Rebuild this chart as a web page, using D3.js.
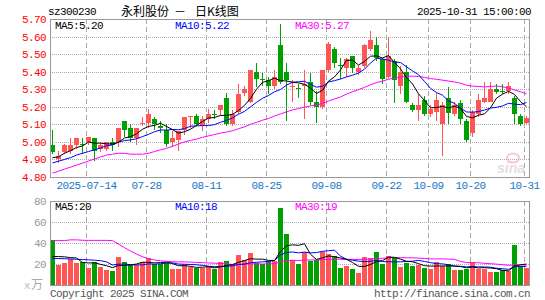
<!DOCTYPE html>
<html>
<head>
<meta charset="utf-8">
<script src="https://cdn.jsdelivr.net/npm/d3@7"></script>
<style>
  body { margin: 0; background: #fff; }
  svg { display: block; }
  text { font-family: "Liberation Mono", monospace; font-size: 11px; letter-spacing: -0.6px; }
  .cjk { font-family: "Noto Sans CJK SC", sans-serif; font-size: 12px; letter-spacing: 0; }
</style>
</head>
<body>
<div id="chart"></div>
<script>
// Daily K-line data, 2025-07-04 .. 2025-10-31
const dates = [
  "2025-07-04","2025-07-07","2025-07-08","2025-07-09","2025-07-10","2025-07-11","2025-07-14","2025-07-15","2025-07-16","2025-07-17",
  "2025-07-18","2025-07-21","2025-07-22","2025-07-23","2025-07-24","2025-07-25","2025-07-28","2025-07-29","2025-07-30","2025-07-31",
  "2025-08-01","2025-08-04","2025-08-05","2025-08-06","2025-08-07","2025-08-08","2025-08-11","2025-08-12","2025-08-13","2025-08-14",
  "2025-08-15","2025-08-18","2025-08-19","2025-08-20","2025-08-21","2025-08-22","2025-08-25","2025-08-26","2025-08-27","2025-08-28",
  "2025-08-29","2025-09-01","2025-09-02","2025-09-03","2025-09-04","2025-09-05","2025-09-08","2025-09-09","2025-09-10","2025-09-11",
  "2025-09-12","2025-09-15","2025-09-16","2025-09-17","2025-09-18","2025-09-19","2025-09-22","2025-09-23","2025-09-24","2025-09-25",
  "2025-09-26","2025-09-29","2025-09-30","2025-10-09","2025-10-10","2025-10-13","2025-10-14","2025-10-15","2025-10-16","2025-10-17",
  "2025-10-20","2025-10-21","2025-10-22","2025-10-23","2025-10-24","2025-10-27","2025-10-28","2025-10-29","2025-10-30","2025-10-31"
];
const open = [
  4.98,4.90,4.94,4.95,4.98,4.99,5.00,5.02,4.96,4.96,
  5.00,5.00,5.12,5.08,5.02,5.10,5.11,5.13,5.09,5.07,
  5.00,5.01,5.07,5.14,5.15,5.09,5.13,5.16,5.18,5.25,
  5.10,5.17,5.28,5.23,5.40,5.36,5.35,5.32,5.55,5.40,
  5.31,5.305,5.32,5.34,5.23,5.20,5.41,5.53,5.44,5.42,
  5.49,5.40,5.43,5.53,5.55,5.47,5.37,5.46,5.32,5.40,
  5.21,5.18,5.24,5.16,5.17,5.10,5.25,5.16,5.22,5.12,
  5.05,5.16,5.23,5.23,5.30,5.29,5.29,5.25,5.15,5.11
];
const high = [
  5.07,4.95,4.99,5.02,5.02,5.02,5.03,5.02,5.00,5.00,
  5.02,5.08,5.12,5.10,5.08,5.14,5.19,5.14,5.12,5.10,
  5.06,5.06,5.14,5.15,5.16,5.15,5.19,5.18,5.21,5.28,
  5.18,5.33,5.32,5.41,5.45,5.39,5.37,5.41,5.67,5.45,
  5.35,5.33,5.41,5.39,5.29,5.41,5.57,5.54,5.48,5.48,
  5.49,5.44,5.56,5.63,5.60,5.48,5.59,5.47,5.43,5.44,
  5.22,5.27,5.26,5.21,5.28,5.23,5.31,5.23,5.24,5.13,
  5.18,5.27,5.34,5.34,5.33,5.33,5.34,5.26,5.16,5.15
];
const low = [
  4.93,4.88,4.93,4.93,4.96,4.93,4.98,4.89,4.94,4.95,
  4.95,4.97,5.03,5.00,4.98,5.09,5.08,5.07,5.05,4.97,
  4.97,4.95,5.04,5.08,5.09,5.06,5.11,5.13,5.15,5.09,
  5.09,5.16,5.26,5.22,5.31,5.32,5.27,5.30,5.33,5.12,
  5.23,5.25,5.13,5.21,5.11,5.19,5.40,5.42,5.36,5.37,
  5.39,5.38,5.42,5.52,5.46,5.33,5.36,5.22,5.27,5.22,
  5.17,5.12,5.15,5.14,5.12,4.92,5.10,5.15,5.10,5.00,
  5.03,5.14,5.22,5.23,5.27,5.27,5.27,5.10,5.09,5.10
];
const close = [
  4.94,4.92,4.98,4.98,5.02,4.985,5.03,4.95,4.98,5.00,
  4.98,5.08,5.07,5.02,5.08,5.11,5.16,5.10,5.08,4.99,
  5.02,5.06,5.14,5.15,5.10,5.13,5.16,5.155,5.21,5.10,
  5.16,5.27,5.30,5.41,5.36,5.355,5.32,5.37,5.34,5.35,
  5.32,5.30,5.33,5.23,5.20,5.41,5.56,5.45,5.43,5.47,
  5.42,5.42,5.55,5.58,5.48,5.36,5.49,5.35,5.40,5.23,
  5.18,5.21,5.16,5.19,5.24,5.21,5.165,5.21,5.13,5.01,
  5.17,5.24,5.25,5.30,5.285,5.285,5.32,5.16,5.10,5.135
];
// volume, 万股
const volume = [
  43.2,19.0,21.0,24.5,21.0,21.9,16.5,21.9,17.1,14.2,
  13.2,26.8,21.9,19.4,18.7,21.9,25.8,19.7,20.3,21.3,
  14.8,15.5,20.3,17.1,16.1,15.8,18.1,14.8,21.9,22.9,
  19.7,28.7,23.5,30.6,20.6,19.7,22.9,22.9,73.5,48.1,
  23.9,20.3,31.0,22.9,23.9,31.0,29.4,27.7,16.5,18.1,
  15.5,11.3,26.8,26.1,31.6,20.3,27.7,26.1,17.4,21.3,
  18.1,19.0,16.1,15.5,21.9,18.1,19.7,14.2,14.2,15.5,
  21.9,15.5,15.5,12.3,12.3,14.2,13.2,38.4,18.1,16.1
];

// moving-average values before a full window exists
const ma5Head = [4.91,4.915,4.935,4.95];
const ma10Head = [4.88,4.89,4.90,4.91,4.925,4.935,4.945,4.955,4.965];
const ma30Head = [
  4.822,4.833,4.845,4.856,4.868,4.879,4.891,4.902,4.914,4.925,
  4.93,4.935,4.935,4.93,4.93,4.93,4.935,4.945,4.955,4.963,
  4.975,4.988,5.0,5.008,5.016,5.026,5.034,5.042,5.05
];
const volMa5Head = [27.1,27.1,26.8,26.1];
const volMa10Head = [25.2,25.2,25.0,24.8,24.5,24.2,24.0,23.6,23.2];
const volMa30Head = [
  42.3,42.3,42.3,43.0,43.0,42.6,42.5,42.5,42.5,42.5,
  42.3,39.0,35.5,32.5,29.5,27.0,25.0,23.8,23.0,22.6,
  22.2,22.0,22.0,21.8,21.5,21.3,21.0,20.8,20.5
];

const tickDates = ["2025-07-14","2025-07-28","2025-08-11","2025-08-25","2025-09-08","2025-09-22","2025-10-09","2025-10-20","2025-10-31"];
const tickLabels = ["2025-07-14","07-28","08-11","08-25","09-08","09-22","10-09","10-20","10-31"];
const priceTicks = [4.80,4.90,5.00,5.10,5.20,5.30,5.40,5.50,5.60,5.70];
const volTicks = [20,40,60,80];

const RED = "#ff5555", GREEN = "#00a000", GRID = "#aaa";

function movingAvg(values, n, head) {
  return values.map((v, i) => i < n - 1 ? head[i] : d3.mean(values.slice(i - n + 1, i + 1)));
}
const ma5 = movingAvg(close, 5, ma5Head);
const ma10 = movingAvg(close, 10, ma10Head);
const ma30 = movingAvg(close, 30, ma30Head);
const vma5 = movingAvg(volume, 5, volMa5Head);
const vma10 = movingAvg(volume, 10, volMa10Head);
const vma30 = movingAvg(volume, 30, volMa30Head);

function candleColor(i) {
  if (close[i] > open[i]) return RED;
  if (close[i] < open[i]) return GREEN;
  return (i > 0 && close[i] < close[i - 1]) ? GREEN : RED;
}

const width = 545, height = 300;
const svg = d3.select("#chart").append("svg")
  .attr("width", width).attr("height", height);

// Scales
const x = d3.scaleLinear().domain([0, dates.length]).range([50, 530]);
const y = d3.scaleLinear().domain([4.80, 5.70]).range([177, 19]);
const yv = d3.scaleLinear().domain([0, 80]).range([285, 201]);
const tickIdx = tickDates.map(d => dates.indexOf(d));

// Header
svg.append("text").attr("x", 48).attr("y", 15).text("sz300230");
svg.append("text").attr("class", "cjk").attr("x", 121).attr("y", 15.5).text("永利股份");
svg.append("text").attr("class", "cjk").attr("x", 174).attr("y", 15.5).text("－");
svg.append("text").attr("class", "cjk").attr("x", 195).attr("y", 15.5).text("日K线图");
svg.append("text").attr("x", 531).attr("y", 15).attr("text-anchor", "end").text("2025-10-31 15:00:00");

// ---- Price panel ----
const gp = svg.append("g");
gp.selectAll("line.hgrid").data(priceTicks.slice(1, -1)).join("line")
  .attr("x1", 50).attr("x2", 529)
  .attr("y1", d => Math.round(y(d)) + 0.5).attr("y2", d => Math.round(y(d)) + 0.5)
  .attr("stroke", GRID).attr("stroke-dasharray", "1,1");
gp.selectAll("line.vgrid").data(tickIdx).join("line")
  .attr("x1", d => x(d) + 0.5).attr("x2", d => x(d) + 0.5)
  .attr("y1", 19).attr("y2", 177)
  .attr("stroke", GRID).attr("stroke-dasharray", "5,3");

// Candles
const candles = gp.append("g").attr("shape-rendering", "crispEdges");
candles.selectAll("rect.wick").data(dates).join("rect")
  .attr("x", (d, i) => Math.round(x(i)) + 2)
  .attr("width", 1)
  .attr("y", (d, i) => Math.round(y(high[i])))
  .attr("height", (d, i) => Math.max(1, Math.round(y(low[i])) - Math.round(y(high[i]))))
  .attr("fill", (d, i) => candleColor(i));
candles.selectAll("rect.body").data(dates).join("rect")
  .attr("x", (d, i) => Math.round(x(i)))
  .attr("width", 5)
  .attr("y", (d, i) => Math.round(y(Math.max(open[i], close[i]))))
  .attr("height", (d, i) => Math.max(1, Math.round(y(Math.min(open[i], close[i]))) - Math.round(y(Math.max(open[i], close[i])))))
  .attr("fill", (d, i) => candleColor(i));

// MA lines
const priceLine = d3.line().x((d, i) => x(i) + 2.5).y(d => y(d));
[[ma30, "#ff00ff"], [ma10, "#0000ff"], [ma5, "#000"]].forEach(([vals, c]) => {
  gp.append("path").datum(vals).attr("d", priceLine)
    .attr("fill", "none").attr("stroke", c).attr("stroke-width", 1);
});

// sina watermark
const wm = gp.append("g").attr("opacity", 0.55);
wm.append("ellipse").attr("cx", 513).attr("cy", 158).attr("rx", 6).attr("ry", 4.5)
  .attr("fill", "none").attr("stroke", "#f0a0a0").attr("stroke-width", 2);
wm.append("text").attr("x", 497).attr("y", 173)
  .style("font-family", "Liberation Sans, sans-serif").style("font-size", "14px")
  .style("font-style", "italic").style("font-weight", "bold").style("letter-spacing", "0")
  .attr("fill", "#c8c8c8").text("sina");

// Frame
gp.append("rect").attr("x", 50.5).attr("y", 19.5).attr("width", 479).attr("height", 158)
  .attr("fill", "none").attr("stroke", "#999");

// Price axis labels
const yAxis = d3.axisLeft(y).tickValues(priceTicks).tickSize(0).tickPadding(4).tickFormat(d3.format(".2f"));
const ya = svg.append("g").attr("transform", "translate(50,0)").call(yAxis);
ya.select(".domain").remove();
ya.attr("font-family", null).attr("font-size", null);
ya.selectAll("text").attr("fill", "#ff0000");

// Date labels
const xAxis = d3.axisBottom(x).tickValues(tickIdx).tickSize(0).tickPadding(4)
  .tickFormat((d, i) => tickLabels[i]);
const xa = svg.append("g").attr("transform", "translate(0,177)").call(xAxis);
xa.select(".domain").remove();
xa.attr("font-family", null).attr("font-size", null);
xa.selectAll("text").attr("fill", "#1878c8");

// MA legend (price)
svg.append("text").attr("x", 55).attr("y", 28.5).attr("fill", "#000").text("MA5:" + ma5[ma5.length - 1].toFixed(2));
svg.append("text").attr("x", 175).attr("y", 28.5).attr("fill", "#0000ff").text("MA10:" + ma10[ma10.length - 1].toFixed(2));
svg.append("text").attr("x", 295).attr("y", 28.5).attr("fill", "#ff00ff").text("MA30:" + ma30[ma30.length - 1].toFixed(2));

// ---- Volume panel ----
const gv = svg.append("g");
gv.selectAll("line.hgrid").data(volTicks.slice(0, -1)).join("line")
  .attr("x1", 50).attr("x2", 529)
  .attr("y1", d => Math.round(yv(d)) + 0.5).attr("y2", d => Math.round(yv(d)) + 0.5)
  .attr("stroke", GRID).attr("stroke-dasharray", "1,1");
gv.selectAll("line.vgrid").data(tickIdx).join("line")
  .attr("x1", d => x(d) + 0.5).attr("x2", d => x(d) + 0.5)
  .attr("y1", 201).attr("y2", 285)
  .attr("stroke", GRID).attr("stroke-dasharray", "5,3");

gv.append("g").attr("shape-rendering", "crispEdges")
  .selectAll("rect").data(volume).join("rect")
  .attr("x", (d, i) => Math.round(x(i)))
  .attr("width", 5)
  .attr("y", d => Math.round(yv(d)))
  .attr("height", d => 286 - Math.round(yv(d)))
  .attr("fill", (d, i) => candleColor(i));

const volLine = d3.line().x((d, i) => x(i) + 2.5).y(d => yv(d));
[[vma30, "#ff00ff"], [vma10, "#0000ff"], [vma5, "#000"]].forEach(([vals, c]) => {
  gv.append("path").datum(vals).attr("d", volLine)
    .attr("fill", "none").attr("stroke", c).attr("stroke-width", 1);
});

gv.append("rect").attr("x", 50.5).attr("y", 201.5).attr("width", 479).attr("height", 84)
  .attr("fill", "none").attr("stroke", "#999");

const vAxis = d3.axisLeft(yv).tickValues(volTicks).tickSize(0).tickPadding(4);
const va = svg.append("g").attr("transform", "translate(50,0)").call(vAxis);
va.select(".domain").remove();
va.attr("font-family", null).attr("font-size", null);
va.selectAll("text").attr("fill", "#999");

// unit label
svg.append("text").attr("x", 30).attr("y", 289).attr("text-anchor", "end").attr("fill", "#bbb").text("x");
svg.append("text").attr("class", "cjk").attr("x", 31).attr("y", 289).attr("fill", "#aaa").text("万");

// MA legend (volume)
svg.append("text").attr("x", 55).attr("y", 210).attr("fill", "#000").text("MA5:" + Math.round(vma5[vma5.length - 1]));
svg.append("text").attr("x", 175).attr("y", 210).attr("fill", "#0000ff").text("MA10:" + Math.round(vma10[vma10.length - 1]));
svg.append("text").attr("x", 295).attr("y", 210).attr("fill", "#ff00ff").text("MA30:" + Math.round(vma30[vma30.length - 1]));

// Footer
svg.append("text").attr("x", 50).attr("y", 297).attr("fill", "#555").text("Copyright 2025 SINA.COM");
svg.append("text").attr("x", 530).attr("y", 297).attr("text-anchor", "end").attr("fill", "#555").text("http://finance.sina.com.cn");
</script>
</body>
</html>
